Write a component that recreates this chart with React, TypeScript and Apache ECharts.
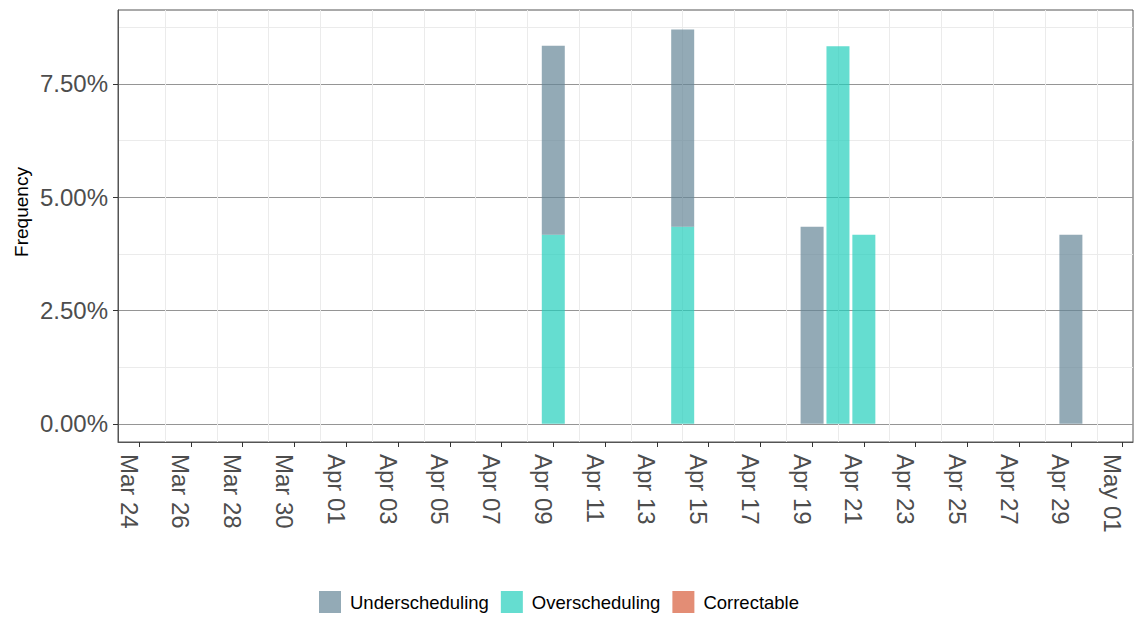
import React, { useEffect, useRef } from "react";
import * as echarts from "echarts";

// ---- data ----
const startDate = "2024-03-24";
const barDates = ["2024-04-09", "2024-04-14", "2024-04-19", "2024-04-20", "2024-04-21", "2024-04-29"];
const underscheduling = [4.17, 4.35, 4.35, 0, 0, 4.17];
const overscheduling = [4.17, 4.35, 0, 8.33, 4.17, 0];
const correctable = [0, 0, 0, 0, 0, 0];
const seriesNames = ["Underscheduling", "Overscheduling", "Correctable"];
const xTickLabels = [
  "Mar 24", "Mar 26", "Mar 28", "Mar 30", "Apr 01", "Apr 03", "Apr 05", "Apr 07", "Apr 09", "Apr 11",
  "Apr 13", "Apr 15", "Apr 17", "Apr 19", "Apr 21", "Apr 23", "Apr 25", "Apr 27", "Apr 29", "May 01",
];
const yMajorTicks = [0, 2.5, 5, 7.5];
const yMinorTicks = [1.25, 3.75, 6.25, 8.75];

const DAY = 86400000;
const dayOffset = (d: string) =>
  Math.round((Date.parse(d + "T00:00:00Z") - Date.parse(startDate + "T00:00:00Z")) / DAY);

const xMajorVals = xTickLabels.map((_, i) => i * 2);
const xMinorVals = xTickLabels.slice(0, -1).map((_, i) => i * 2 + 1);

const FONT = "'Liberation Sans', Arial, Helvetica, sans-serif";
const X_MIN = -0.82;
const X_MAX = 38.4;
const Y_MIN = -0.4;
const Y_MAX = 9.13;

export default function App() {
  const ref = useRef<HTMLDivElement>(null);

  useEffect(() => {
    if (!ref.current) return;
    const chart = echarts.init(ref.current, null, { renderer: "svg" });
    const xs = barDates.map(dayOffset);
    // value first so that stacking applies to the value (y) dimension
    const mk = (vals: number[]) => vals.map((v, i) => [v, xs[i]]);

    const barBase = {
      type: "bar",
      stack: "total",
      xAxisIndex: 0,
      yAxisIndex: 0,
      barWidth: 23,
      encode: { x: 1, y: 0 },
    };

    const option: any = {
      animation: false,
      backgroundColor: "#ffffff",
      grid: {
        left: 118,
        right: 2,
        top: 10,
        bottom: 179,
        show: true,
        borderColor: "#555555",
        borderWidth: 1,
      },
      legend: {
        data: seriesNames,
        left: 319,
        top: 591,
        padding: 0,
        itemWidth: 22,
        itemHeight: 22,
        itemGap: 12,
        icon: "rect",
        textStyle: { fontSize: 18.5, color: "#000000", fontFamily: FONT, padding: [0, 0, 0, 4] },
      },
      xAxis: [
        {
          type: "value",
          min: X_MIN,
          max: X_MAX,
          position: "bottom",
          axisLine: { show: true, onZero: false, lineStyle: { color: "#555555", width: 1 } },
          axisTick: { show: true, length: 5, customValues: xMajorVals, lineStyle: { color: "#333333", width: 1 } },
          axisLabel: {
            customValues: xMajorVals,
            rotate: -90,
            margin: 12,
            verticalAlign: "top",
            lineHeight: 20,
            fontSize: 24,
            color: "#4d4d4d",
            fontFamily: FONT,
            formatter: (v: number) => xTickLabels[Math.round(v / 2)] ?? "",
          },
          splitLine: { show: false },
        },
        {
          type: "value",
          min: X_MIN,
          max: X_MAX,
          position: "bottom",
          axisLine: { show: false },
          axisTick: { show: false, customValues: xMinorVals },
          axisLabel: { show: false, customValues: xMinorVals },
          splitLine: { show: true, lineStyle: { color: "#ebebeb", width: 1 } },
        },
      ],
      yAxis: [
        {
          type: "value",
          min: Y_MIN,
          max: Y_MAX,
          axisLine: { show: true, onZero: false, lineStyle: { color: "#555555", width: 1 } },
          axisTick: { show: true, length: 5, customValues: yMajorTicks, lineStyle: { color: "#333333", width: 1 } },
          axisLabel: {
            customValues: yMajorTicks,
            margin: 10,
            fontSize: 24,
            color: "#4d4d4d",
            fontFamily: FONT,
            formatter: (v: number) => v.toFixed(2) + "%",
          },
          splitLine: { show: true, lineStyle: { color: "#959595", width: 1 } },
        },
        {
          type: "value",
          min: Y_MIN,
          max: Y_MAX,
          position: "left",
          axisLine: { show: false },
          axisTick: { show: false, customValues: yMinorTicks },
          axisLabel: { show: false, customValues: yMinorTicks },
          splitLine: { show: true, lineStyle: { color: "#ebebeb", width: 1 } },
        },
      ],
      graphic: [
        {
          type: "text",
          x: 21,
          y: 212,
          rotation: Math.PI / 2,
          style: {
            text: "Frequency",
            fontSize: 19,
            fontFamily: FONT,
            fill: "#000000",
            textAlign: "center",
            textVerticalAlign: "middle",
          },
        },
      ],
      series: [
        {
          ...barBase,
          name: "Overscheduling",
          itemStyle: { color: "rgba(36,206,188,0.7)" },
          data: mk(overscheduling),
        },
        {
          ...barBase,
          name: "Underscheduling",
          itemStyle: { color: "rgba(101,134,151,0.7)" },
          data: mk(underscheduling),
        },
        {
          ...barBase,
          name: "Correctable",
          itemStyle: { color: "rgba(215,92,59,0.7)" },
          data: mk(correctable),
        },
      ],
    };

    chart.setOption(option);
    return () => chart.dispose();
  }, []);

  return (
    <div
      ref={ref}
      style={{ position: "absolute", left: 0, top: 0, width: 1135, height: 621 }}
    />
  );
}
